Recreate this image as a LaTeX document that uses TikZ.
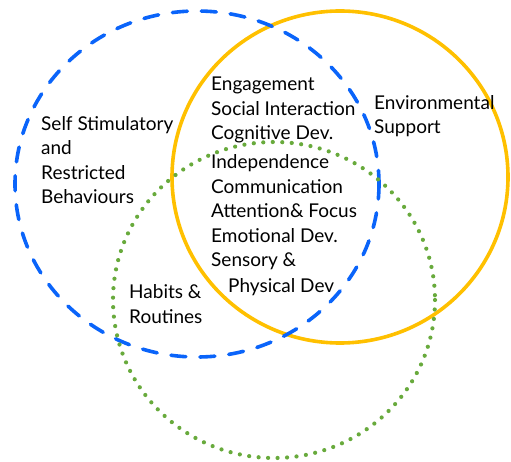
\documentclass[tikz,border=0pt]{standalone}
\usepackage{fontspec}
\setmainfont{Lato}
\definecolor{ringblue}{RGB}{10,100,250}
\definecolor{ringgold}{RGB}{255,192,0}
\definecolor{ringgreen}{RGB}{104,170,60}
\begin{document}
\begin{tikzpicture}[x=1pt,y=-1pt,
  ring/.style={line width=3.6pt},
  lbl/.style={anchor=base west,inner sep=0pt,align=left,font=\fontsize{19}{24.5}\selectfont}]
\useasboundingbox (0,0) rectangle (511,462);
% the three overlapping rings
\draw[ring,ringgold] (340,177) ellipse (168 and 166);
\draw[ring,ringblue,dash pattern=on 15pt off 14pt,line cap=round] (197,184) ellipse (182 and 173);
\draw[ring,ringgreen,line width=4.2pt,dash pattern=on 0pt off 9.5pt,line cap=round] (274,300) ellipse (161 and 158);
% labels (anchored at the baseline of their last line)
\node[lbl] (self) at (41,204) {Self Stimulatory\\and\\Restricted\\Behaviours};
\node[lbl] (core) at (211,140) {Engagement\\Social Interaction\\Cognitive Dev.};
\node[lbl] (inner) at (211,267) {Independence\\Communication\\Attention\& Focus\\Emotional Dev.\\Sensory \&};
\node[lbl] (phys) at (228,292) {Physical Dev};
\node[lbl] (env) at (374,134) {Environmental\\Support};
\node[lbl] (habits) at (129,323) {Habits \&\\Routines};
\end{tikzpicture}
\end{document}
